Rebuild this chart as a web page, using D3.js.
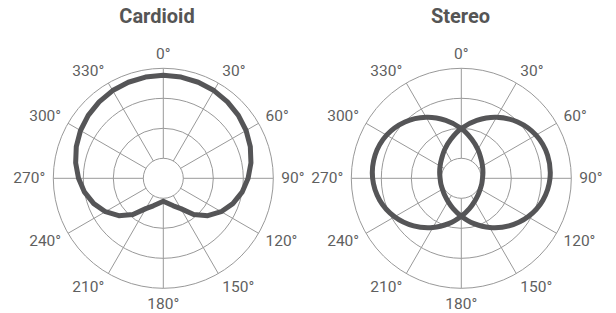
<!DOCTYPE html>
<html>
<head>
<meta charset="utf-8">
<script src="https://cdn.jsdelivr.net/npm/d3@7"></script>
<style>
  html, body { margin: 0; padding: 0; background: #fff; }
  svg { display: block; font-family: Roboto, "Noto Sans", sans-serif; }
</style>
</head>
<body>
<svg id="chart" width="616" height="313"></svg>
<script>
// ---- data ----
const titles = ["Cardioid", "Stereo"];
const angleTicks = [0, 30, 60, 90, 120, 150, 180, 210, 240, 270, 300, 330];
const angleLabels = ["0°", "30°", "60°", "90°", "120°", "150°", "180°", "210°", "240°", "270°", "300°", "330°"];
const ringTicks = [-30, -20, -10, 0];   // dB

// Cardioid: angles every 10°, level in dB
const cardioidAngles = [0,10,20,30,40,50,60,70,80,90,100,110,120,130,140,150,160,170,
                        180,190,200,210,220,230,240,250,260,270,280,290,300,310,320,330,340,350];
const cardioidDb = [-2.3,-2.4,-2.6,-2.9,-3.4,-4.0,-4.8,-5.8,-7.0,-8.4,-10.0,-12.0,-14.4,-17.3,-20.9,-25.0,-26.9,-28.2,
                    -29.0,-28.2,-26.9,-25.0,-20.9,-17.3,-14.4,-12.0,-10.0,-8.4,-7.0,-5.8,-4.8,-4.0,-3.4,-2.9,-2.6,-2.4];

// Stereo: two lobes, angles every 15°, level in dB
const stereoAngles = [0,15,30,45,60,75,90,105,120,135,150,165,180,195,210,225,240,255,270,285,300,315,330,345];
const stereoLeftDb = [-20.1,-23.2,-25.6,-27.4,-28.5,-29.2,-29.6,-29.6,-29.4,-28.8,-27.8,-26.2,
                      -24.0,-21.1,-17.7,-14.2,-11.0,-8.5,-7.1,-6.9,-7.9,-10.1,-13.2,-16.7];
const stereoRightDb = [-20.1,-16.7,-13.2,-10.1,-7.9,-6.9,-7.1,-8.5,-11.0,-14.2,-17.7,-21.1,
                       -24.0,-26.2,-27.8,-28.8,-29.4,-29.6,-29.6,-29.2,-28.5,-27.4,-25.6,-23.2];

// ---- layout ----
const panels = [
  { cx: 163.3, cy: 178.3, titleX: 157, series: [{ a: cardioidAngles, v: cardioidDb, curve: d3.curveLinearClosed }] },
  { cx: 461.3, cy: 178.3, titleX: 460.5, series: [
      { a: stereoAngles, v: stereoLeftDb, curve: d3.curveCardinalClosed },
      { a: stereoAngles, v: stereoRightDb, curve: d3.curveCardinalClosed } ] }
];
const innerR = 20, outerR = 110;
const gridColor = "#999";
const curveColor = "#555557";
const textColor = "#5f5f5f";

const svg = d3.select("#chart");
const r = d3.scaleLinear().domain([-30, 0]).range([innerR, outerR]);
const ang = d3.scaleLinear().domain([0, 360]).range([0, 2 * Math.PI]);

panels.forEach((p, i) => {
  const g = svg.append("g").attr("transform", `translate(${p.cx},${p.cy})`);

  // title
  svg.append("text")
    .attr("x", p.titleX).attr("y", 23.3)
    .attr("text-anchor", "middle")
    .attr("font-size", 20).attr("font-weight", 700)
    .attr("fill", "#555").text(titles[i]);

  // rings
  g.selectAll("circle.ring").data(ringTicks).join("circle")
    .attr("class", "ring").attr("r", d => r(d))
    .attr("fill", "none").attr("stroke", gridColor).attr("stroke-width", 1);

  // spokes
  g.selectAll("line.spoke").data(angleTicks).join("line")
    .attr("class", "spoke")
    .attr("x1", d => r(-30) * Math.sin(ang(d))).attr("y1", d => -r(-30) * Math.cos(ang(d)))
    .attr("x2", d => r(0) * Math.sin(ang(d))).attr("y2", d => -r(0) * Math.cos(ang(d)))
    .attr("stroke", gridColor).attr("stroke-width", 1);

  // angle labels
  g.selectAll("text.lab").data(angleTicks).join("text")
    .attr("class", "lab")
    .attr("x", d => 118 * Math.sin(ang(d)))
    .attr("y", d => { const c = Math.cos(ang(d)); return -125 * c + 1 * Math.abs(c); })
    .attr("text-anchor", d => { const s = Math.sin(ang(d)); return s > 0.1 ? "start" : s < -0.1 ? "end" : "middle"; })
    .attr("dominant-baseline", "central")
    .attr("font-size", 15.5).attr("fill", textColor)
    .text((d, k) => angleLabels[k]);

  // series
  p.series.forEach(s => {
    const pts = s.a.map((a, k) => [ang(a), r(s.v[k])]);
    const line = d3.lineRadial().angle(d => d[0]).radius(d => d[1]).curve(s.curve);
    g.append("path").attr("d", line(pts))
      .attr("fill", "none").attr("stroke", curveColor)
      .attr("stroke-width", 5).attr("stroke-linejoin", "round");
  });
});
</script>
</body>
</html>
